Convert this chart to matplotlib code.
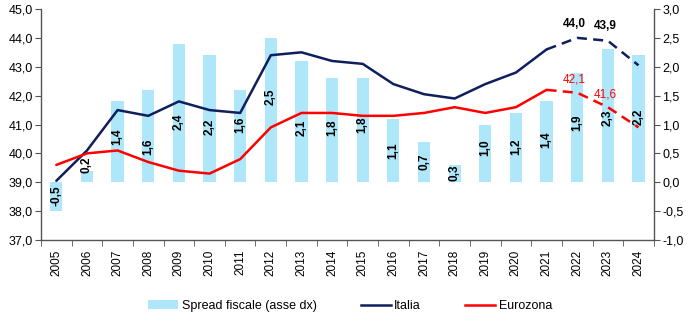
import numpy as np
import matplotlib
matplotlib.use('Agg')
import matplotlib.pyplot as plt
from matplotlib.patches import Patch
from matplotlib.lines import Line2D

plt.rcParams['font.family'] = ['Liberation Sans', 'DejaVu Sans']

anni = [str(a) for a in range(2005, 2025)]
italia = [39.05, 40.1, 41.5, 41.3, 41.8, 41.5, 41.4, 43.4, 43.5, 43.2,
          43.1, 42.4, 42.05, 41.9, 42.4, 42.8, 43.6, 44.0, 43.9, 43.05]
eurozona = [39.6, 40.0, 40.1, 39.7, 39.4, 39.3, 39.8, 40.9, 41.4, 41.4,
            41.3, 41.3, 41.4, 41.6, 41.4, 41.6, 42.2, 42.1, 41.6, 40.9]
spread = [-0.5, 0.2, 1.4, 1.6, 2.4, 2.2, 1.6, 2.5, 2.1, 1.8,
          1.8, 1.1, 0.7, 0.3, 1.0, 1.2, 1.4, 1.9, 2.3, 2.2]
# posizione verticale delle etichette delle barre (asse dx)
pos_etichette = [-0.24, 0.30, 0.78, 0.61, 1.04, 0.96, 0.99, 1.48, 0.94, 0.94,
                 0.99, 0.54, 0.35, 0.16, 0.59, 0.61, 0.73, 1.03, 1.11, 1.13]
n_storico = 17  # fino al 2021 linea continua, poi tratteggiata

blu = '#0f1f5e'
rosso = '#ff0000'
azzurro = '#aee6fa'
grigio = '#555555'

fig = plt.figure(figsize=(7, 3.22), dpi=100)
ax = fig.add_axes([0.0586, 0.2547, 0.8754, 0.7173])
ax2 = ax.twinx()
ax.set_zorder(ax2.get_zorder() + 1)
ax.patch.set_visible(False)

x = np.arange(len(anni))

ax2.bar(x, spread, width=0.4, color=azzurro, zorder=1)
for xi, v, p in zip(x, spread, pos_etichette):
    ax2.text(xi, p, f'{v:.1f}'.replace('.', ','), rotation=90, ha='center', va='center',
             fontsize=8.5, fontweight='bold', color='black', zorder=3)

ax.plot(x[:n_storico], italia[:n_storico], color=blu, lw=1.8, solid_capstyle='round')
ax.plot(x[n_storico - 1:], italia[n_storico - 1:], color=blu, lw=1.8, ls=(0, (4, 2.5)))
ax.plot(x[:n_storico], eurozona[:n_storico], color=rosso, lw=1.8, solid_capstyle='round')
ax.plot(x[n_storico - 1:], eurozona[n_storico - 1:], color=rosso, lw=1.8, ls=(0, (4, 2.5)))

for i in (17, 18):
    ax.annotate(f'{italia[i]:.1f}'.replace('.', ','), (x[i], italia[i]), xytext=(-2, 6),
                textcoords='offset points', ha='center', va='bottom',
                fontsize=8.5, fontweight='bold', color='black')
    ax.annotate(f'{eurozona[i]:.1f}'.replace('.', ','), (x[i], eurozona[i]), xytext=(-2, 5),
                textcoords='offset points', ha='center', va='bottom',
                fontsize=8.5, color=rosso)

ax.set_xlim(-0.5, len(anni) - 0.5)
ax.set_ylim(37, 45)
ax2.set_ylim(-1, 3)
ax.set_yticks(np.arange(37, 45.1, 1))
ax.set_yticklabels([f'{v:.1f}'.replace('.', ',') for v in np.arange(37, 45.1, 1)])
ax2.set_yticks(np.arange(-1, 3.01, 0.5))
ax2.set_yticklabels([f'{v:.1f}'.replace('.', ',').replace('-0,0', '0,0') for v in np.arange(-1, 3.01, 0.5)])

ax.set_xticks(x)
ax.set_xticklabels(anni, rotation=90, fontsize=8.5)
ax.set_xticks(np.arange(-0.5, len(anni), 1), minor=True)
ax.tick_params(axis='x', which='major', length=0, pad=7)
ax.tick_params(axis='x', which='minor', length=4, direction='out', color=grigio)
ax.tick_params(axis='y', length=4, direction='out', color=grigio, labelsize=9, pad=2)
ax2.tick_params(axis='y', length=4, direction='out', color=grigio, labelsize=9, pad=2)

for a in (ax, ax2):
    a.spines['top'].set_visible(False)
    for s in ('left', 'right', 'bottom'):
        a.spines[s].set_color(grigio)
        a.spines[s].set_linewidth(1.0)
ax.spines['right'].set_visible(False)
ax2.spines['left'].set_visible(False)
ax2.spines['bottom'].set_visible(False)

handles = [Patch(facecolor=azzurro, edgecolor='none', label='Spread fiscale (asse dx)'),
           Line2D([], [], color=blu, lw=1.8, label='Italia'),
           Line2D([], [], color=rosso, lw=1.8, label='Eurozona')]
fig.legend(handles=handles, loc='center', bbox_to_anchor=(0.5, 0.05), ncol=3, frameon=False,
           fontsize=9, handlelength=2.4, handletextpad=0.3, columnspacing=3.5)

fig.savefig('out.png', dpi=100)
